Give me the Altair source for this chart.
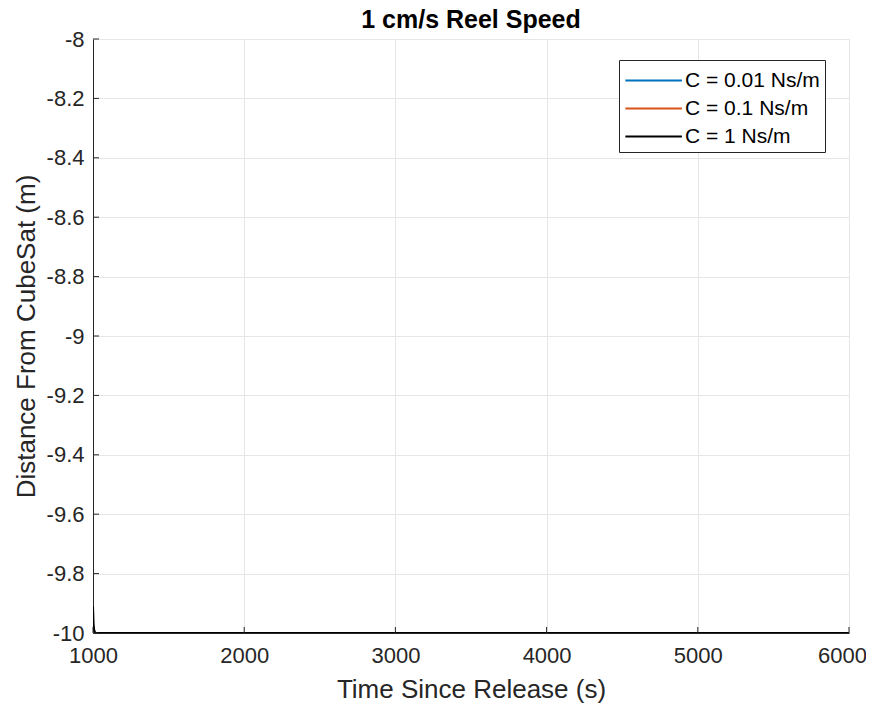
import altair as alt
import pandas as pd

series_names = ["C = 0.01 Ns/m", "C = 0.1 Ns/m", "C = 1 Ns/m"]
series_colors = ["#0072BD", "#D95319", "#000000"]

t_blue = [1000, 1010, 1020, 6000]
y_blue = [-10.0, -10.0, -10.0, -10.0]
t_orange = [1000, 1010, 1020, 6000]
y_orange = [-10.0, -10.0, -10.0, -10.0]
t_black = [1000, 1004, 1008, 1014, 1020, 6000]
y_black = [-9.91, -9.97, -9.99, -9.998, -10.0, -10.0]

x_ticks = [1000, 2000, 3000, 4000, 5000, 6000]
y_ticks = [-8, -8.2, -8.4, -8.6, -8.8, -9, -9.2, -9.4, -9.6, -9.8, -10]

rows = []
for name, ts, ys in zip(series_names, [t_blue, t_orange, t_black], [y_blue, y_orange, y_black]):
    for i, (t, y) in enumerate(zip(ts, ys)):
        rows.append({"series": name, "t": t, "y": y, "i": i})
df = pd.DataFrame(rows)
xt = pd.DataFrame({"t": x_ticks})
yt = pd.DataFrame({"y": y_ticks})

FONT = "Liberation Sans"
W, H = 756, 594
XTITLE = "Time Since Release (s)"
YTITLE = "Distance From CubeSat (m)"
xscale = alt.Scale(domain=[1000, 6000], nice=False, zero=False)
yscale = alt.Scale(domain=[-10, -8], nice=False, zero=False)
MINUS_FIX = "replace(datum.label, '\u2212', '-')"
xaxis = alt.Axis(values=x_ticks, format="d", grid=True, tickSize=0,
                 labelFlush=False, labelPadding=12, titlePadding=10,
                 labelOffset={"condition": {"test": "datum.value >= 6000", "value": -7},
                              "value": 0})
yaxis = alt.Axis(values=y_ticks, format="~g", labelExpr=MINUS_FIX,
                 grid=True, tickSize=0, labelFlush=False,
                 labelPadding=9, titlePadding=7)

lines = alt.Chart(df).mark_line(strokeWidth=2, clip=True).encode(
    x=alt.X("t:Q", title=XTITLE, scale=xscale, axis=xaxis),
    y=alt.Y("y:Q", title=YTITLE, scale=yscale, axis=yaxis),
    color=alt.Color("series:N",
                    scale=alt.Scale(domain=series_names, range=series_colors),
                    sort=series_names,
                    legend=alt.Legend(title=None, orient="none",
                                      symbolType="M-1,0H3", symbolSize=800,
                                      symbolStrokeWidth=2, labelFontSize=21,
                                      labelFont=FONT, labelColor="#000000",
                                      labelOffset=30,
                                      fillColor="white", strokeColor="#262626",
                                      padding=5, rowPadding=2, legendX=526, legendY=21,
                                      direction="vertical")),
    order=alt.Order("series:N", sort="ascending"),
    detail="series:N",
)

left_ticks = alt.Chart(yt).mark_rule(color="#262626", strokeWidth=1).encode(
    y=alt.Y("y:Q", title=YTITLE, scale=yscale, axis=yaxis),
    x=alt.value(0), x2=alt.value(6),
)
bottom_ticks = alt.Chart(xt).mark_rule(color="#262626", strokeWidth=1).encode(
    x=alt.X("t:Q", title=XTITLE, scale=xscale, axis=xaxis),
    y=alt.value(H), y2=alt.value(H - 6),
)

chart = alt.layer(lines, left_ticks, bottom_ticks).properties(
    width=W, height=H,
    title=alt.TitleParams("1 cm/s Reel Speed", fontSize=25, fontWeight="bold",
                          font=FONT, color="#000000", offset=-5),
    autosize=alt.AutoSizeParams(type="none"),
    padding={"left": 85, "top": 31, "right": 17, "bottom": 70},
).configure_axis(
    labelFont=FONT, titleFont=FONT, labelFontSize=22, titleFontSize=26,
    labelColor="#262626", titleColor="#262626", titleFontWeight="normal",
    domainColor="#262626", tickColor="#262626", gridColor="#e6e6e6",
    gridWidth=1, domainWidth=1,
).configure_view(stroke="#e6e6e6", strokeWidth=1)

chart.save("out.html", embed_options={"renderer": "svg", "actions": False})
